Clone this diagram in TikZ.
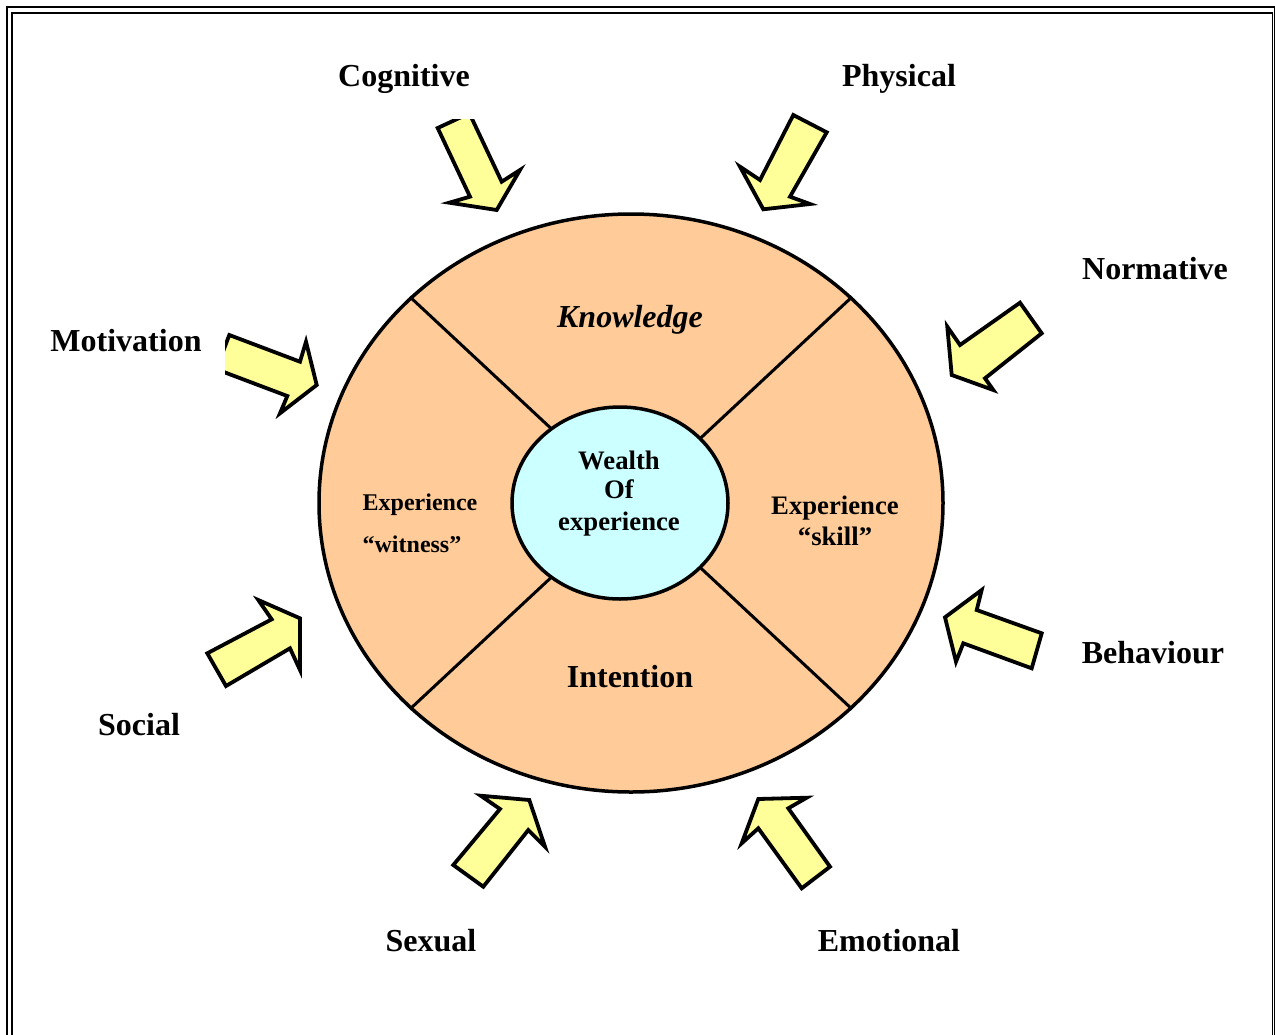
\documentclass[tikz,border=0pt]{standalone}
\usepackage{fontspec}
\setmainfont{Liberation Serif}
\usetikzlibrary{shapes.geometric}
\definecolor{peach}{HTML}{FFCC99}
\definecolor{paleblue}{HTML}{CCFFFF}
\definecolor{arrowyellow}{HTML}{FFFF99}
\begin{document}
\begin{tikzpicture}[x=1pt,y=-1pt,
  blockarrow/.style={draw=black,fill=arrowyellow,line width=3.8,line join=miter},
  biglabel/.style={font=\fontsize{32}{36}\selectfont\bfseries, anchor=base, inner sep=0},
  midlabel/.style={font=\fontsize{26.7}{30}\selectfont\bfseries, anchor=base, inner sep=0},
  smalllabel/.style={font=\fontsize{24}{28}\selectfont\bfseries, anchor=base, inner sep=0},
  divider/.style={line width=3}]
\useasboundingbox (0,0) rectangle (1275,1034);
\clip (0,0) rectangle (1275,1034);
\fill[white] (0,0) rectangle (1275,1034);
% double frame
\draw[line width=2.8] (7,7) rectangle (1275.5,1045);
\draw[line width=1.6] (12,13) rectangle (1272.5,1040);

% circle
\node[ellipse, draw, line width=3.5, fill=peach, minimum width=624, minimum height=578, inner sep=0] (outer) at (631,503) {};
\draw[divider] (outer.43) -- (outer.center);
\draw[divider] (outer.137) -- (outer.center);
\draw[divider] (outer.223) -- (outer.center);
\draw[divider] (outer.317) -- (outer.center);
\node[ellipse, draw, line width=3.5, fill=paleblue, minimum width=216, minimum height=192, inner sep=0] (core) at (620,503) {};

% inner texts
\node[midlabel] (w1) at (619,469.5) {Wealth};
\node[midlabel] (w2) at (619,498) {Of};
\node[midlabel] (w3) at (619,530.5) {experience};
\node[biglabel, font=\fontsize{32}{36}\selectfont\bfseries\itshape] (know) at (630,327.5) {Knowledge};
\node[biglabel] (intent) at (630,687.5) {Intention};
\node[smalllabel] (exl1) at (420,510) {Experience};
\node[smalllabel] (exl2) at (412,552) {“witness”};
\node[midlabel] (exr1) at (835,514.5) {Experience};
\node[midlabel] (exr2) at (835,545) {“skill”};

% arrows
\begin{scope}
\clip (0,119) rectangle (1275,1034);
\draw[blockarrow] (437.7,128) -- (469.4,113.3) -- (501.7,181.7) -- (520,170) -- (496.7,210) -- (449.3,202.7) -- (470,196.7) -- cycle;
\end{scope}
\draw[blockarrow] (793.3,115) -- (826.7,132.3) -- (790,196.7) -- (810,204) -- (763.3,209.3) -- (740,166.7) -- (760,180) -- cycle;
\draw[blockarrow] (1020,302.7) -- (1041.7,333.3) -- (985,378.3) -- (993.3,390) -- (951.7,375) -- (947.3,326.7) -- (960,345) -- cycle;
\begin{scope}
\clip (225,0) rectangle (1275,1034);
\draw[blockarrow] (229.3,335) -- (300,361.7) -- (306,341.7) -- (316.7,385) -- (280,413.3) -- (287.3,396) -- (216.3,369.2) -- cycle;
\end{scope}
\draw[blockarrow] (981.7,590) -- (976.7,610) -- (1041.7,633.3) -- (1031.7,668.3) -- (963.3,643.3) -- (956,661.7) -- (945,617.3) -- cycle;
\draw[blockarrow] (207.3,653.3) -- (271.7,619.3) -- (258.3,600) -- (300,618.3) -- (300,670) -- (290,648.3) -- (226,686) -- cycle;
\draw[blockarrow] (480.7,795.7) -- (529.3,800) -- (545,846.7) -- (528.3,830) -- (483.3,886.7) -- (453.3,865) -- (500,809) -- cycle;
\draw[blockarrow] (741.7,843.3) -- (758.3,799) -- (806.7,797.7) -- (788.3,808.3) -- (830,866.7) -- (801.7,888.3) -- (758.3,828.3) -- cycle;

% outer labels
\node[biglabel] (cog) at (404,86.5) {Cognitive};
\node[biglabel] (phys) at (899,86.5) {Physical};
\node[biglabel] (norm) at (1155,279.5) {Normative};
\node[biglabel] (motiv) at (126,351.5) {Motivation};
\node[biglabel] (behav) at (1153,663.5) {Behaviour};
\node[biglabel] (soc) at (139,735.5) {Social};
\node[biglabel] (sex) at (431,951.5) {Sexual};
\node[biglabel] (emo) at (889,951.5) {Emotional};
\end{tikzpicture}
\end{document}
